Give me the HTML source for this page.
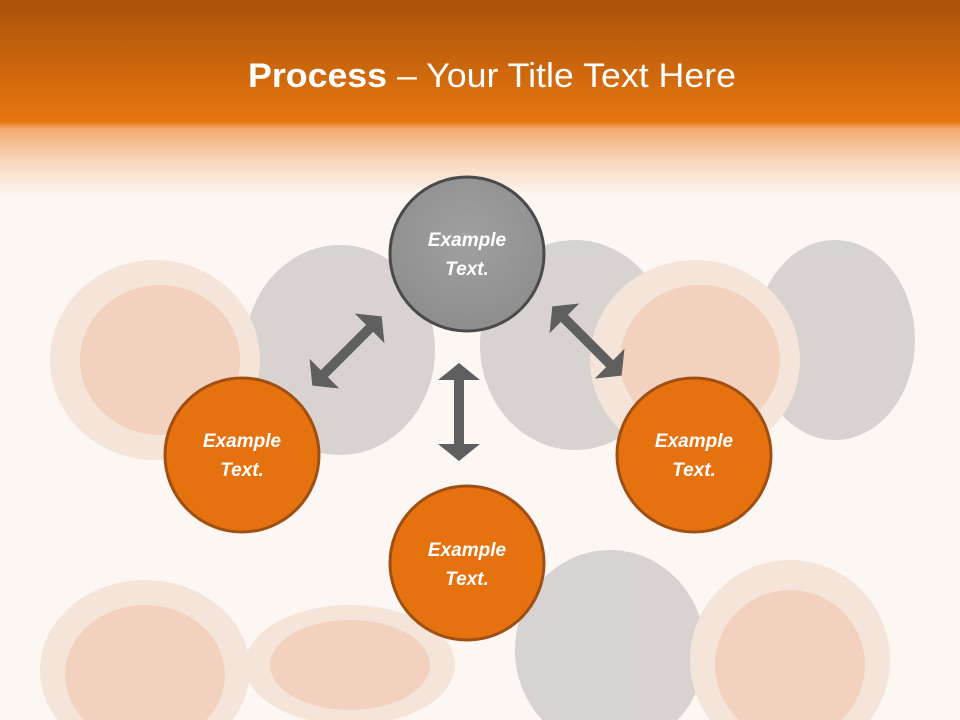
<!DOCTYPE html>
<html><head><meta charset="utf-8"><style>
html,body{margin:0;padding:0;width:960px;height:720px;overflow:hidden;background:#fcf7f3;font-family:"Liberation Sans",sans-serif}
svg{display:block}
</style></head><body>
<svg width="960" height="720" viewBox="0 0 960 720" xmlns="http://www.w3.org/2000/svg" style="position:absolute;left:0;top:0">
<defs>
<linearGradient id="hd" x1="0" y1="0" x2="0" y2="1">
<stop offset="0" stop-color="#a8530a"/><stop offset="0.95" stop-color="#e8760f"/><stop offset="1" stop-color="#f2a060"/>
</linearGradient>
<linearGradient id="fd" x1="0" y1="0" x2="0" y2="1">
<stop offset="0" stop-color="#f4a768"/><stop offset="0.5" stop-color="#f8d6bc"/><stop offset="1" stop-color="#fcf7f3"/>
</linearGradient>
<radialGradient id="gr" cx="0.5" cy="0.4" r="0.6">
<stop offset="0" stop-color="#a0a0a0"/><stop offset="1" stop-color="#8e8e8e"/>
</radialGradient>
</defs>
<rect width="960" height="720" fill="#fcf7f3"/>
<g opacity="0.7">
<ellipse cx="340" cy="350" rx="95" ry="105" fill="#c9c3c4"/>
<ellipse cx="575" cy="345" rx="95" ry="105" fill="#c9c3c4"/>
<ellipse cx="835" cy="340" rx="80" ry="100" fill="#c9c3c4"/>
<ellipse cx="155" cy="360" rx="105" ry="100" fill="#f1ddd0"/>
<ellipse cx="160" cy="360" rx="80" ry="75" fill="#eec1a8"/>
<ellipse cx="695" cy="360" rx="105" ry="100" fill="#f1ddd0"/>
<ellipse cx="700" cy="360" rx="80" ry="75" fill="#eec1a8"/>
<ellipse cx="610" cy="650" rx="95" ry="100" fill="#c9c3c4"/>
<ellipse cx="145" cy="670" rx="105" ry="90" fill="#f1ddd0"/>
<ellipse cx="145" cy="675" rx="80" ry="70" fill="#eec1a8"/>
<ellipse cx="350" cy="665" rx="105" ry="60" fill="#f1ddd0"/>
<ellipse cx="350" cy="665" rx="80" ry="45" fill="#eec1a8"/>
<ellipse cx="790" cy="660" rx="100" ry="100" fill="#f1ddd0"/>
<ellipse cx="790" cy="665" rx="75" ry="75" fill="#eec1a8"/>
</g>
<rect x="0" y="126" width="960" height="70" fill="url(#fd)"/>
<rect x="0" y="0" width="960" height="128" fill="url(#hd)"/>
<text x="492" y="87" text-anchor="middle" fill="#fff" font-size="34" font-family="Liberation Sans, sans-serif" textLength="488" lengthAdjust="spacingAndGlyphs"><tspan font-weight="bold">Process</tspan> – Your Title Text Here</text>
<g fill="#5f5f5f">
<polygon points="459,363 480,380 464,380 464,444 480,444 459,461 438,444 454,444 454,380 438,380"/>
<g transform="translate(347,351) rotate(-45)">
<polygon points="-49,0 -32,-21 -32,-5 32,-5 32,-21 49,0 32,21 32,5 -32,5 -32,21"/>
</g>
<g transform="translate(587,341) rotate(45)">
<polygon points="-49,0 -32,-21 -32,-5 32,-5 32,-21 49,0 32,21 32,5 -32,5 -32,21"/>
</g>
</g>
<circle cx="467" cy="254" r="77" fill="url(#gr)" stroke="#4a4a4a" stroke-width="3"/>
<circle cx="242" cy="455" r="77" fill="#e6720f" stroke="#a04f14" stroke-width="3"/>
<circle cx="694" cy="455" r="77" fill="#e6720f" stroke="#a04f14" stroke-width="3"/>
<circle cx="467" cy="563" r="77" fill="#e6720f" stroke="#a04f14" stroke-width="3"/>
<g fill="#fff" font-size="19" font-weight="bold" font-style="italic" text-anchor="middle" font-family="Liberation Sans, sans-serif">
<text x="467" y="246">Example</text><text x="467" y="275">Text.</text>
<text x="242" y="447">Example</text><text x="242" y="476">Text.</text>
<text x="694" y="447">Example</text><text x="694" y="476">Text.</text>
<text x="467" y="556">Example</text><text x="467" y="585">Text.</text>
</g>
</svg>
</body></html>
